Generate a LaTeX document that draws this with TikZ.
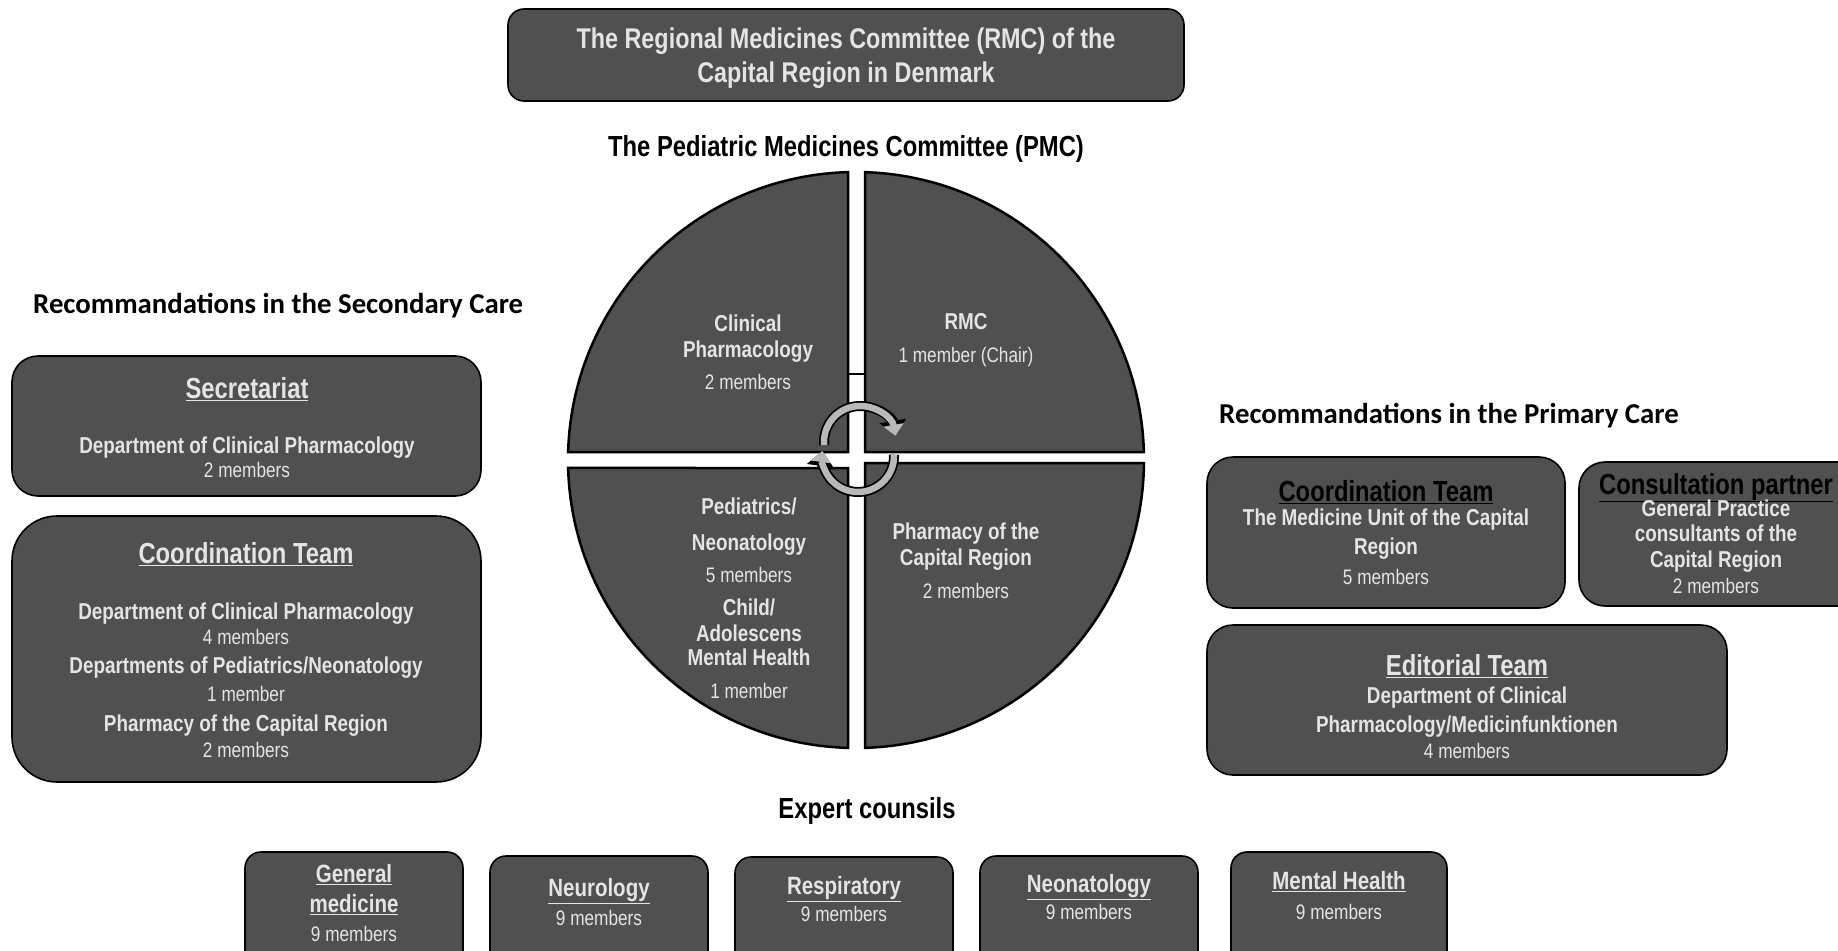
\documentclass[tikz,border=0pt]{standalone}
\usepackage{fontspec}
\setmainfont{Liberation Sans}[FakeStretch=0.82]
\newfontfamily\calib{Carlito}
\usetikzlibrary{calc}
\usetikzlibrary{arrows.meta}

\definecolor{boxgray}{RGB}{80,80,80}
\definecolor{lighttext}{RGB}{228,228,228}
\definecolor{ringgray}{RGB}{185,185,185}

\newcommand\hdfont{\fontsize{29}{32}\selectfont\bfseries}
\newcommand\mbfont{\fontsize{21}{24}\selectfont\mdseries}

\begin{document}
\begin{tikzpicture}[x=1pt,y=1pt,
    box/.style={draw=black, line width=1.6pt, fill=boxgray},
    quad/.style={draw=black, line width=2.5pt, fill=boxgray},
    wtxt/.style={text=lighttext, align=center, inner sep=0pt, anchor=north},
    btxt/.style={text=black, align=center, inner sep=0pt},
    cycout/.style={line width=10pt, black, -{Triangle[width=26pt,length=15pt]}},
    cycin/.style={line width=6.5pt, ringgray, -{Triangle[width=20pt,length=11pt]}}]

    \useasboundingbox (0,0) rectangle (1838,-950);
    \clip (0,0) rectangle (1838,-950);

    % RMC
    \draw[box, rounded corners=16pt] (508,-9) rectangle (1184,-101);
    \node[wtxt, font={\fontsize{28.5}{34}\selectfont\bfseries}] (rmc) at (846,-28)
        {The Regional Medicines Committee (RMC) of the\\Capital Region in Denmark};
    \node[btxt, font=\hdfont] (pmc) at (846,-149) {The Pediatric Medicines Committee (PMC)};

    % Kreis
    \coordinate (c) at (856,-460);
    \draw[quad] (848,-452) -- ($(c)+(91.59:288pt)$) arc[start angle=91.59, end angle=178.41, radius=288pt] -- cycle;
    \draw[quad] (865,-452) -- ($(c)+(88.21:288pt)$) arc[start angle=88.21, end angle=1.59, radius=288pt] -- cycle;
    \draw[quad] (848,-468) -- ($(c)+(181.59:288pt)$) arc[start angle=181.59, end angle=268.41, radius=288pt] -- cycle;
    \draw[quad] (865,-463) -- ($(c)+(-0.6:288pt)$) arc[start angle=-0.6, end angle=-88.21, radius=288pt] -- cycle;
    \draw[line width=1.2pt] (848,-374) -- (865,-374);
    % Pfeile
    \draw[cycout] (860,-442) ++(185:36pt) arc[start angle=185, end angle=10, radius=36pt];
    \draw[cycin] (860,-442) ++(185:36pt) arc[start angle=185, end angle=10, radius=36pt];
    \draw[cycout] (858,-456) ++(2:36pt) arc[start angle=2, end angle=-188, radius=36pt];
    \draw[cycin] (858,-456) ++(2:36pt) arc[start angle=2, end angle=-188, radius=36pt];

    \node[wtxt, font={\fontsize{23}{26}\selectfont\bfseries}] (clin) at (748,-315)
        {Clinical\\Pharmacology\\[6pt]{\mbfont 2 members}};
    \node[wtxt, font={\fontsize{23}{26}\selectfont\bfseries}] (chair) at (966,-313)
        {RMC\\[7pt]{\mbfont 1 member (Chair)}};
    \node[wtxt, font={\fontsize{23}{26}\selectfont\bfseries}] (pharm) at (966,-523)
        {Pharmacy of the\\Capital Region\\[7pt]{\mbfont 2 members}};
    \node[wtxt, font={\fontsize{23}{26}\selectfont\bfseries}] (ped) at (749,-498)
        {Pediatrics/\\[10pt]Neonatology\\[6pt]{\mbfont 5 members}\\[7pt]Child/\\Adolescens\\[-2pt]Mental Health\\[7pt]{\mbfont 1 member}};

    % Sekundaer
    \node[btxt, anchor=west, font={\calib\fontsize{28.8}{32}\selectfont\bfseries}] (seccare) at (33,-306)
        {Recommandations in the Secondary Care};
    \draw[box, rounded corners=26pt] (12,-356) rectangle (481,-496);
    \node[wtxt, font={\fontsize{23}{25}\selectfont\bfseries}] (secr) at (247,-377)
        {{\hdfont\underline{Secretariat}}\\[30pt]Department of Clinical Pharmacology\\[-1pt]{\mbfont 2 members}};
    \draw[box, rounded corners=45pt] (12,-516) rectangle (481,-782);
    \node[wtxt, font={\fontsize{23}{27}\selectfont\bfseries}] (coordl) at (246,-542)
        {{\hdfont\underline{Coordination Team}}\\[29pt]Department of Clinical Pharmacology\\[-2pt]{\mbfont 4 members}\\[2pt]
         Departments of Pediatrics/Neonatology\\[1pt]{\mbfont 1 member}\\[3pt]Pharmacy of the Capital Region\\[-1pt]{\mbfont 2 members}};

    % Primaer
    \node[btxt, anchor=west, font={\calib\fontsize{28.8}{32}\selectfont\bfseries}] (pricare) at (1219,-416)
        {Recommandations in the Primary Care};
    \draw[box, rounded corners=26pt] (1207,-457) rectangle (1565,-608);
    \node[wtxt, font={\fontsize{23}{29}\selectfont\bfseries}] (coordr) at (1386,-480)
        {\textcolor{black}{\hdfont\underline{Coordination Team}}\\[-5pt]The Medicine Unit of the Capital\\Region\\[1pt]{\mbfont 5 members}};
    \draw[box, rounded corners=26pt] (1579,-462) rectangle (1870,-606);
    \node[wtxt, font={\fontsize{23}{26}\selectfont\bfseries}] (consult) at (1716,-473)
        {\textcolor{black}{\hdfont\underline{Consultation partner}}\\[-4pt]General Practice\\[-1pt]consultants of the\\Capital Region\\{\mbfont 2 members}};
    \draw[box, rounded corners=26pt] (1207,-625) rectangle (1727,-775);
    \node[wtxt, font={\fontsize{23}{28}\selectfont\bfseries}] (edit) at (1467,-654)
        {{\hdfont\underline{Editorial Team}}\\Department of Clinical\\[1pt]Pharmacology/Medicinfunktionen\\[-2pt]{\mbfont 4 members}};

    % Experten
    \node[btxt, font=\hdfont] (expert) at (867,-811) {Expert counsils};
    \draw[box, rounded corners=16pt] (245,-852) rectangle (463,-975);
    \node[wtxt, font={\fontsize{25}{30}\selectfont\bfseries}] (genmed) at (354,-864)
        {\underline{General}\\\underline{medicine}\\[-1pt]{\mbfont 9 members}};
    \draw[box, rounded corners=16pt] (490,-856) rectangle (708,-975);
    \node[wtxt, font={\fontsize{25}{29}\selectfont\bfseries}] (neuro) at (599,-878)
        {\underline{Neurology}\\{\mbfont 9 members}};
    \draw[box, rounded corners=16pt] (735,-857) rectangle (953,-975);
    \node[wtxt, font={\fontsize{25}{27}\selectfont\bfseries}] (resp) at (844,-876)
        {\underline{Respiratory}\\{\mbfont 9 members}};
    \draw[box, rounded corners=16pt] (980,-856) rectangle (1198,-975);
    \node[wtxt, font={\fontsize{25}{27}\selectfont\bfseries}] (neo) at (1089,-874)
        {\underline{Neonatology}\\{\mbfont 9 members}};
    \draw[box, rounded corners=16pt] (1231,-852) rectangle (1447,-975);
    \node[wtxt, font={\fontsize{25}{30}\selectfont\bfseries}] (mental) at (1339,-871)
        {\underline{Mental Health}\\{\mbfont 9 members}};
\end{tikzpicture}
\end{document}
